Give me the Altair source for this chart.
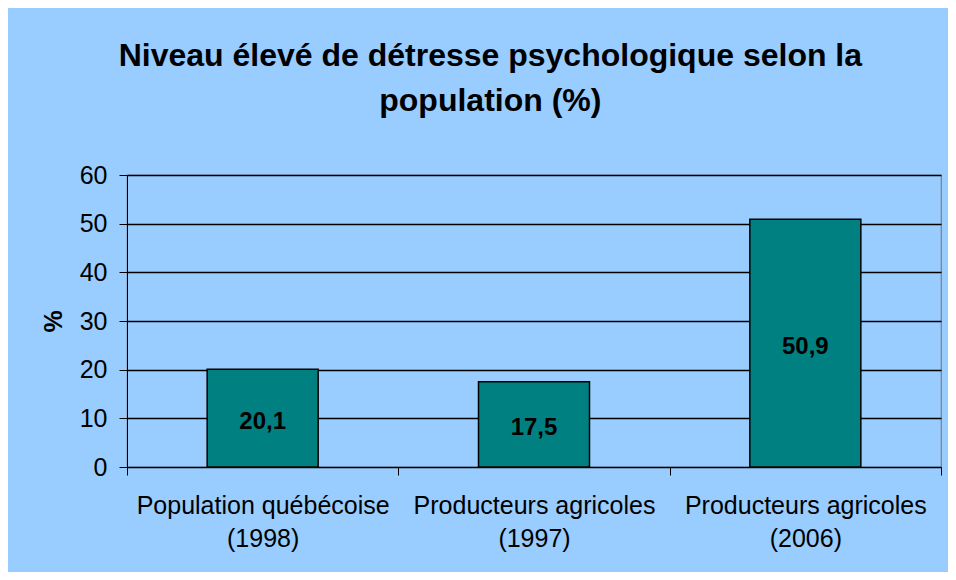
import altair as alt
import pandas as pd

categories = ["Population québécoise (1998)", "Producteurs agricoles (1997)", "Producteurs agricoles (2006)"]
values = [20.1, 17.5, 50.9]
value_labels = ["20,1", "17,5", "50,9"]
y_ticks = [0, 10, 20, 30, 40, 50, 60]
title_lines = ["Niveau élevé de détresse psychologique selon la", "population (%)"]
y_title = "%"

df = pd.DataFrame({"cat": categories, "val": values, "lab": value_labels})

FONT = "Liberation Sans"
BG = "#99CCFF"
TEAL = "#008080"

label_expr = ("[slice(datum.label, 0, indexof(datum.label, ' (')), "
              "slice(datum.label, indexof(datum.label, ' (') + 1)]")

x_enc = alt.X(
    "cat:N", sort=categories, title=None,
    scale=alt.Scale(paddingInner=0, paddingOuter=0),
    axis=alt.Axis(labelExpr=label_expr, labelAngle=0, labelFont=FONT, labelFontSize=25,
                  labelColor="black", labelLineHeight=33, labelPadding=18, labelLimit=0,
                  tickBand="extent", ticks=True, tickSize=8, tickColor="black",
                  domainColor="black", labelBaseline="top", grid=False),
)

bars = alt.Chart(df).mark_bar(size=111, color=TEAL, stroke="black", strokeWidth=1.5).encode(
    x=x_enc,
    y=alt.Y("val:Q", scale=alt.Scale(domain=[0, 60], nice=False),
            axis=alt.Axis(values=y_ticks, title=y_title, titleFont=FONT, titleFontSize=25,
                          titleFontWeight="bold", titleColor="black", titlePadding=13,
                          labelFont=FONT, labelFontSize=25, labelColor="black", labelPadding=12,
                          tickSize=8, tickColor="black", domainColor="black",
                          grid=True, gridColor="black", gridWidth=1.4)),
)

text = alt.Chart(df).transform_calculate(mid="datum.val / 2").mark_text(
    font=FONT, fontSize=24, fontWeight="bold", color="black", baseline="middle", dy=4
).encode(
    x=alt.X("cat:N", sort=categories),
    y=alt.Y("mid:Q"),
    text="lab:N",
)

chart = alt.layer(bars, text).properties(
    width=814, height=292,
    background=BG,
    autosize=alt.AutoSizeParams(type="none"),
    padding={"left": 119, "top": 167, "right": 7, "bottom": 105},
    title=alt.TitleParams(text=title_lines, font=FONT, fontSize=32, fontWeight="bold",
                          color="black", anchor="middle", frame="bounds",
                          lineHeight=45, offset=45, dx=-1),
).configure_view(stroke="#808080", strokeWidth=1.2, fill=BG)

chart.save("out.html", embed_options={"renderer": "svg", "actions": False})
